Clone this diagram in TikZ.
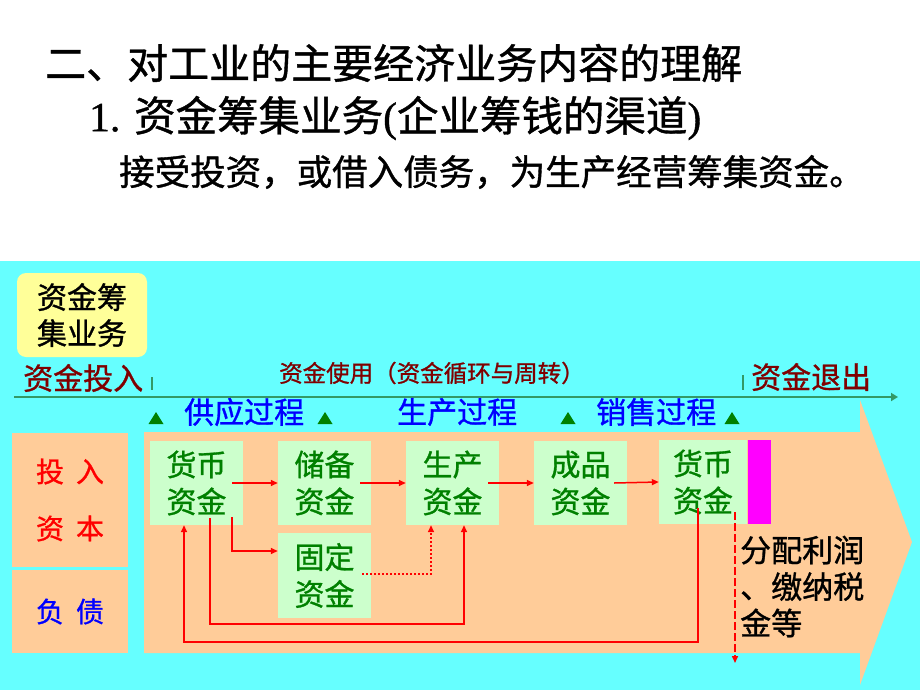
\documentclass[tikz,border=0pt]{standalone}
\usepackage{fontspec}
\setmainfont{Noto Sans CJK SC}[FakeBold=1]
\newfontfamily\latin{Liberation Serif}[FakeBold=1]
\usetikzlibrary{arrows.meta}
\definecolor{bgcyan}{HTML}{66FFFF}
\definecolor{peach}{HTML}{FFCC99}
\definecolor{pgreen}{HTML}{CCFFCC}
\definecolor{dgreen}{HTML}{008000}
\definecolor{dred}{HTML}{800000}
\definecolor{lyellow}{HTML}{FFFF99}
\definecolor{lgreen}{HTML}{339966}
\definecolor{mag}{HTML}{FF00FF}
\tikzset{
  gbox/.style={fill=pgreen, minimum width=93, minimum height=84, inner sep=0pt,
    text=dgreen, align=center, font=\fontsize{30}{37}\selectfont},
  lbox/.style={fill=peach, minimum width=116, inner sep=0pt, align=center,
    font=\fontsize{28}{57}\selectfont},
  ybox/.style={fill=lyellow, rounded corners=9pt, minimum width=130, minimum height=84,
    inner sep=0pt, align=center, font=\fontsize{30}{36}\selectfont},
  lbl/.style={anchor=west, inner sep=0pt},
  proc/.style={lbl, text=blue, font=\fontsize{30}{36}\selectfont},
  flow/.style={red, line width=1.5pt, -{Triangle[length=7pt,width=6pt]}},
  tick/.style={lgreen, line width=2pt},
}
\begin{document}
\begin{tikzpicture}[x=1pt,y=-1pt]
\useasboundingbox (0,0) rectangle (920,690);
\fill[white] (0,0) rectangle (920,261);
\fill[bgcyan] (0,261) rectangle (920,690);

% titles
\node[lbl, font=\fontsize{41}{48}\selectfont] (t1) at (45,63) {二、对工业的主要经济业务内容的理解};
\node[lbl, font=\fontsize{41.5}{50}\selectfont] (t2) at (89,118) {{\latin 1. }资金筹集业务{\latin (}企业筹钱的渠道{\latin )}};
\node[lbl, font=\fontsize{35.5}{42}\selectfont] (t3) at (119,172) {接受投资，或借入债务，为生产经营筹集资金。};

% big peach arrow
\fill[peach] (144,432) -- (860,432) -- (860,400) -- (912,542) -- (860,685) -- (860,653) -- (144,653) -- cycle;

% yellow box
\node[ybox] (yb) at (82,315) {资金筹\\集业务};

% time line
\node[lbl, text=dred, font=\fontsize{30}{36}\selectfont] (tr) at (23,378) {资金投入};
\node[lbl, text=dred, font=\fontsize{23.5}{28}\selectfont] (use) at (279,373) {资金使用（资金循环与周转）};
\node[lbl, text=dred, font=\fontsize{30}{36}\selectfont] (out) at (751,377) {资金退出};
\draw[tick] (152,377) -- (152,390);
\draw[tick] (743,375) -- (743,390);
\coordinate (tl0) at (14,397);
\coordinate (tl1) at (898,397);
\draw[lgreen, line width=2pt, -{Triangle[length=7pt,width=8pt]}] (tl0) -- (tl1);

% process labels
\node[proc] (p1) at (184,412) {供应过程};
\node[proc] (p2) at (397,412) {生产过程};
\node[proc] (p3) at (596,412) {销售过程};
\foreach \t in {156,325,568,732}
  \fill[dgreen] (\t-7.5,424) -- (\t+7.5,424) -- (\t,412) -- cycle;

% left boxes
\node[lbox, minimum height=134, text=red] (tz) at (70,500) {投\hspace{12pt}入\\资\hspace{12pt}本};
\node[lbox, minimum height=83, text=blue] (fz) at (70,611.5) {负\hspace{12pt}债};

% fund boxes
\node[gbox] (b1) at (196.5,483) {货币\\资金};
\node[gbox] (b2) at (324.5,483) {储备\\资金};
\node[gbox] (b3) at (452.5,483) {生产\\资金};
\node[gbox] (b4) at (580.5,483) {成品\\资金};
\node[gbox, minimum width=88] (b5) at (703,482) {货币\\资金};
\node[fill=mag, minimum width=23, minimum height=84, inner sep=0pt] (mg) at (759.5,482) {};
\node[gbox, minimum height=85] (gd) at (324.5,575.5) {固定\\资金};

\node[lbl, align=left, font=\fontsize{31}{36.5}\selectfont] (fp) at (740,586.5) {分配利润\\、缴纳税\\金等};

% connectors
\draw[flow] ([xshift=-11pt]b1.east) -- (b2.west);
\draw[flow] ([xshift=-11pt]b2.east) -- (b3.west);
\draw[flow] ([xshift=-11pt]b3.east) -- (b4.west);
\draw[flow] ([xshift=-13pt]b4.east) -- (b5.west);
\draw[flow] ([xshift=-11pt,yshift=8pt]b1.south east) |- ([yshift=24.5pt]gd.west);
\draw[flow, dash pattern=on 2pt off 2pt] ([xshift=-9pt,yshift=1.5pt]gd.east) -| ([xshift=-21.5pt]b3.south);
\coordinate (k1) at (464,624);
\draw[flow] ([xshift=13.5pt,yshift=7pt]b1.south) |- (k1) -- ([xshift=11.5pt]b3.south);
\coordinate (k2) at (698,642);
\coordinate (k3) at (184,642);
\draw[flow] ([xshift=-5pt,yshift=16pt]b5.south) -- (k2) -- (k3) -- ([xshift=-12.5pt]b1.south);
\coordinate (k4) at (735,663);
\draw[flow, dash pattern=on 8pt off 3pt] ([xshift=32pt,yshift=12pt]b5.south) -- (k4);
\end{tikzpicture}
\end{document}
